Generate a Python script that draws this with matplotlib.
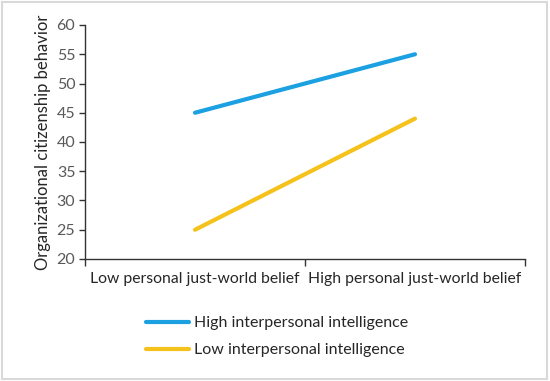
import numpy as np
import matplotlib.pyplot as plt
from matplotlib.ticker import FixedLocator

# -- Data --
categories = ["Low personal just-world belief", "High personal just-world belief"]
series_names = ["High interpersonal intelligence", "Low interpersonal intelligence"]
high_ii = [45, 55]
low_ii = [25, 44]
yticks = [20, 25, 30, 35, 40, 45, 50, 55, 60]

colors = ["#1ba1e2", "#f5c21b"]

plt.rcParams["font.family"] = ["Lato", "DejaVu Sans"]

fig = plt.figure(figsize=(5.5, 3.81), dpi=100)
ax = fig.add_axes([85/550, 1 - 259/381, 440/550, 234/381])

x = np.arange(len(categories))
for vals, name, c in zip([high_ii, low_ii], series_names, colors):
    ax.plot(x, vals, color=c, lw=3, solid_capstyle="round", label=name)

ax.set_xlim(-0.5, len(categories) - 0.5)
ax.set_ylim(yticks[0], yticks[-1])
ax.set_yticks(yticks)
ax.tick_params(axis="y", labelsize=11.5, labelcolor="#595959", length=4,
               width=1, color="#333333", pad=3)

# category boundaries as tick marks, labels at category centres
ax.xaxis.set_major_locator(FixedLocator(np.arange(len(categories) + 1) - 0.5))
ax.set_xticklabels([])
ax.xaxis.set_minor_locator(FixedLocator(x))
ax.set_xticklabels(categories, minor=True)
ax.tick_params(axis="x", which="major", length=5, width=1, color="#333333")
ax.tick_params(axis="x", which="minor", length=0, labelsize=11.3,
               labelcolor="#262626", pad=9)

for s in ["top", "right"]:
    ax.spines[s].set_visible(False)
for s in ["left", "bottom"]:
    ax.spines[s].set_color("#333333")
    ax.spines[s].set_linewidth(1)

ax.set_ylabel("Organizational citizenship behavior", fontsize=12,
              color="#262626", labelpad=4)

fig.legend(loc="upper left", bbox_to_anchor=(146/550, 1 - 316/381),
           frameon=False, borderpad=0, borderaxespad=0,
           fontsize=11.5, handlelength=2.7, handletextpad=0.3, labelspacing=0.8,
           labelcolor="#262626")

# light frame round the figure
fig.patches.append(plt.Rectangle((0.004, 0.006), 0.99, 0.99, transform=fig.transFigure,
                                 fill=False, edgecolor="#d9d9d9", lw=1.5))

fig.savefig("out.png", dpi=100)
